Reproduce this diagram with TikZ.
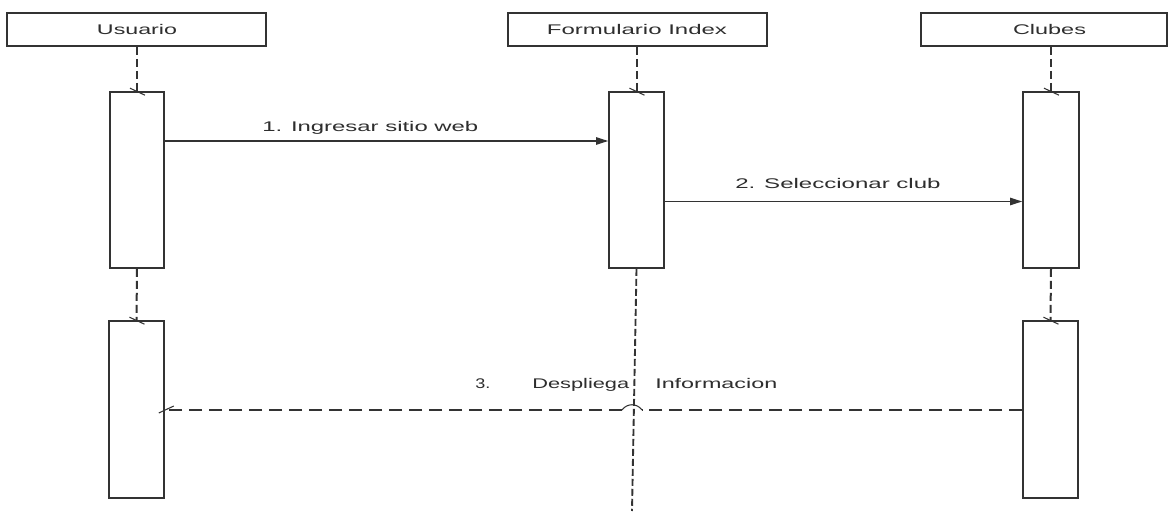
\documentclass[tikz,border=0pt]{standalone}
\usepackage{fontspec}
\usepackage{graphicx}
\setmainfont{Liberation Sans}
\usetikzlibrary{arrows.meta,fit}
\definecolor{ink}{HTML}{333333}
\definecolor{txt}{HTML}{2E2E2E}
% set a label at a given width, keeping its natural height
\newcommand{\wtext}[2]{\resizebox{#1}{\height}{#2}}

\begin{document}
\begin{tikzpicture}[x=0.75pt,y=-0.75pt,
  box/.style={draw=ink, line width=1.2pt, inner sep=0pt, fill=white},
  lifeline/.style={draw=ink, line width=1.5pt, dash pattern=on 6pt off 3pt},
  lowlife/.style={draw=ink, line width=1.4pt, dash pattern=on 5.25pt off 2.25pt},
  tickmark/.style={draw=ink, line width=0.8pt},
  call/.style={draw=ink, line width=1pt,
    -{Triangle[length=9pt,width=5.5pt]}},
  reply/.style={draw=ink, line width=1pt, dash pattern=on 9.75pt off 5.25pt},
  hop/.style={draw=ink, line width=0.8pt},
  msgtext/.style={text=txt, font=\fontsize{10.5}{12}\selectfont, inner sep=0pt}
]
\useasboundingbox[fill=white] (0,0) rectangle (1168,513);

% object headers
\node[box, fit={(7,13) (266,46)}] (hu) {};
\node[box, fit={(508,13) (767,46)}] (hf) {};
\node[box, fit={(921,13) (1167,46)}] (hc) {};
\node[msgtext] (hut) at (137,29.5) {\wtext{60pt}{Usuario}};
\node[msgtext] (hft) at (637,29.5) {\wtext{135pt}{Formulario Index}};
\node[msgtext] (hct) at (1049.5,29.5) {\wtext{54.75pt}{Clubes}};

% activation bars
\node[box, fit={(110,92) (164,268)}] (u1) {};
\node[box, fit={(609,92) (664,268)}] (f1) {};
\node[box, fit={(1023,92) (1079,268)}] (c1) {};
\node[box, fit={(109,321) (164,498)}] (u2) {};
\node[box, fit={(1023,321) (1078,498)}] (c2) {};

% lifelines
\draw[lifeline] (u1.north |- hu.south) -- (u1.north);
\draw[lifeline] (f1.north |- hf.south) -- (f1.north);
\draw[lifeline] (c1.north |- hc.south) -- (c1.north);
\draw[lifeline] (u1.south) -- (u2.north);
\draw[lifeline] (c1.south) -- (c2.north);
\coordinate (fend) at (632,511);
\draw[lowlife] (f1.south) -- (fend);

% activation ticks
\foreach \b in {u1,f1,c1,u2,c2}
  \draw[tickmark] (\b.north) ++(-7,-3) -- ++(15,7);

% message rows
\coordinate (m1) at (0,141);
\coordinate (m2) at (0,201.5);
\coordinate (m3) at (0,410);
\coordinate (hopR) at (642,410);
\coordinate (hopL) at (622,410);

\draw[call] (u1.east |- m1) -- (f1.west |- m1);
\node[msgtext, anchor=base west] (t1) at (262,132) {\wtext{162pt}{1. Ingresar sitio web}};

\draw[call] (f1.east |- m2) -- (c1.west |- m2);
\node[msgtext, anchor=base west] (t2) at (735,188.5) {\wtext{154pt}{2. Seleccionar club}};

\draw[reply] (c2.west |- m3) -- (hopR);
\draw[reply] (hopL) -- (u2.east |- m3);
\draw[hop] (hopL) .. controls (627,403) and (637,403) .. (hopR);
\draw[tickmark] (u2.east |- m3) ++(-6,3) -- ++(15,-7);

\node[msgtext, anchor=base west] (t3a) at (475,388) {\wtext{11.25pt}{3.}};
\node[msgtext, anchor=base west] (t3b) at (532,388) {\wtext{72.75pt}{Despliega}};
\node[msgtext, anchor=base west] (t3c) at (655,388) {\wtext{91.5pt}{Informacion}};
\end{tikzpicture}
\end{document}
